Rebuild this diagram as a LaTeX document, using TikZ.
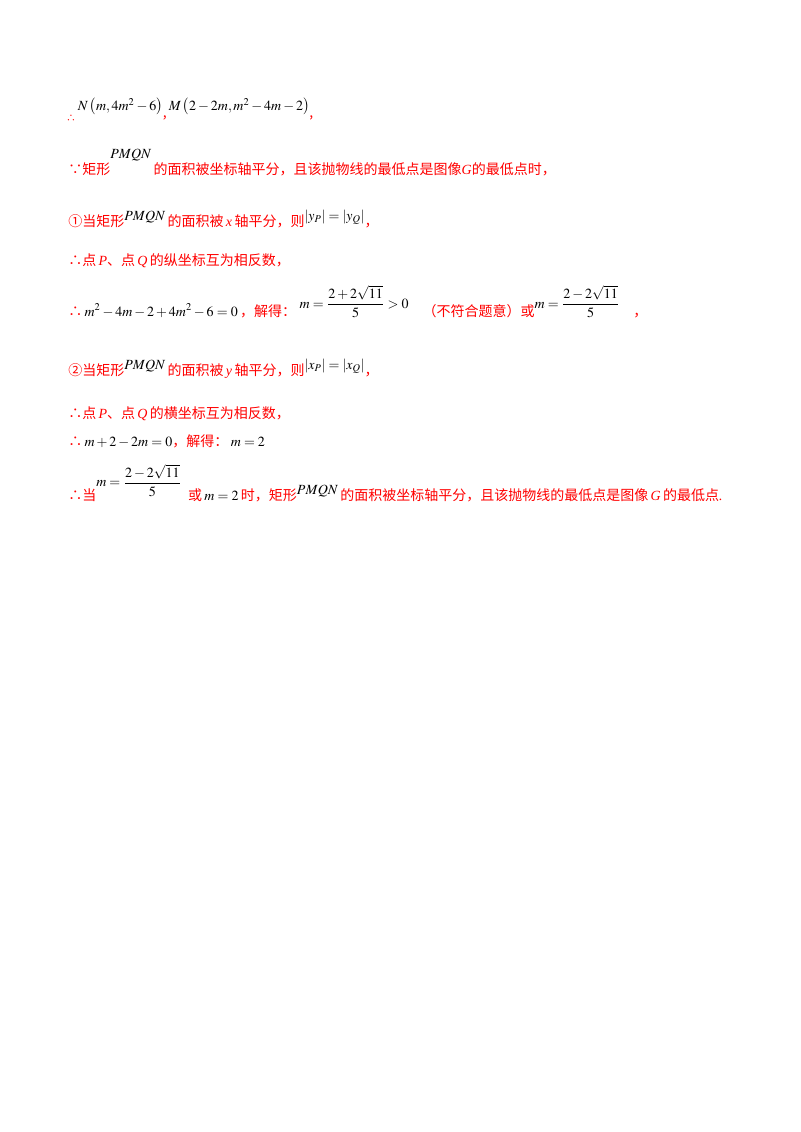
\documentclass[tikz,border=0pt]{standalone}
\usepackage{amsmath}
\usepackage{mathptmx}
\usepackage{fontspec}
\setmainfont{Liberation Serif}
\newfontfamily\cjk{Noto Sans CJK SC}
\definecolor{rd}{RGB}{255,0,0}
\newcommand{\R}[1]{{\color{rd}\cjk #1}}
\newcommand{\Ri}[1]{{\color{rd}\itshape #1}}
\newcommand{\up}[2]{\raisebox{#1}{#2}}
\begin{document}
\begin{tikzpicture}[x=0.75pt,y=-0.75pt,
  ln/.style={anchor=base west,inner sep=0pt,font=\fontsize{10.5}{13}\selectfont}]
\fill[white] (0,0) rectangle (800,1132);
\node[ln] (l1) at (66,117) {\R{\raisebox{-3pt}{\scriptsize∴}}\,\up{5pt}{$N\left(m,4m^2-6\right)$}\R{,}\,\up{5pt}{$M\left(2-2m,m^2-4m-2\right)$}\R{,}};
\node[ln] (l2) at (68,174) {\R{∵矩形}\up{12pt}{$PMQN$}\,\R{的面积被坐标轴平分，且该抛物线的最低点是图像}\Ri{G}\R{的最低点时，}};
\node[ln] (l3) at (68,226) {\R{①当矩形}\up{4pt}{$PMQN$}\,\R{的面积被}\,\Ri{x}\,\R{轴平分，则}\up{4pt}{$\left|y_P\right|=\left|y_Q\right|$}\R{，}};
\node[ln] (l4) at (68,265) {\R{∴点}\,\Ri{P}\R{、点}\,\Ri{Q}\,\R{的纵坐标互为相反数，}};
\node[ln] (l5) at (68,316) {\R{∴}\,$m^2-4m-2+4m^2-6=0$\,\R{，解得：}\ \up{6pt}{$m=\dfrac{2+2\sqrt{11}}{5}>0$}\quad\R{（不符合题意）或}\up{6pt}{$m=\dfrac{2-2\sqrt{11}}{5}$}\quad\R{，}};
\node[ln] (l6) at (68,375) {\R{②当矩形}\up{4pt}{$PMQN$}\,\R{的面积被}\,\Ri{y}\,\R{轴平分，则}\up{4pt}{$\left|x_P\right|=\left|x_Q\right|$}\R{，}};
\node[ln] (l7) at (68,418) {\R{∴点}\,\Ri{P}\R{、点}\,\Ri{Q}\,\R{的横坐标互为相反数，}};
\node[ln] (l8) at (68,446) {\R{∴}\,$m+2-2m=0$\R{，解得：}\,$m=2$};
\node[ln] (l9) at (68,500) {\R{∴当}\up{10pt}{$m=\dfrac{2-2\sqrt{11}}{5}$}\ \ \R{或}\,$m=2$\,\R{时，矩形}\up{4pt}{$PMQN$}\,\R{的面积被坐标轴平分，且该抛物线的最低点是图像}\,\Ri{G}\,\R{的最低点}\Ri{.}};
\end{tikzpicture}
\end{document}
